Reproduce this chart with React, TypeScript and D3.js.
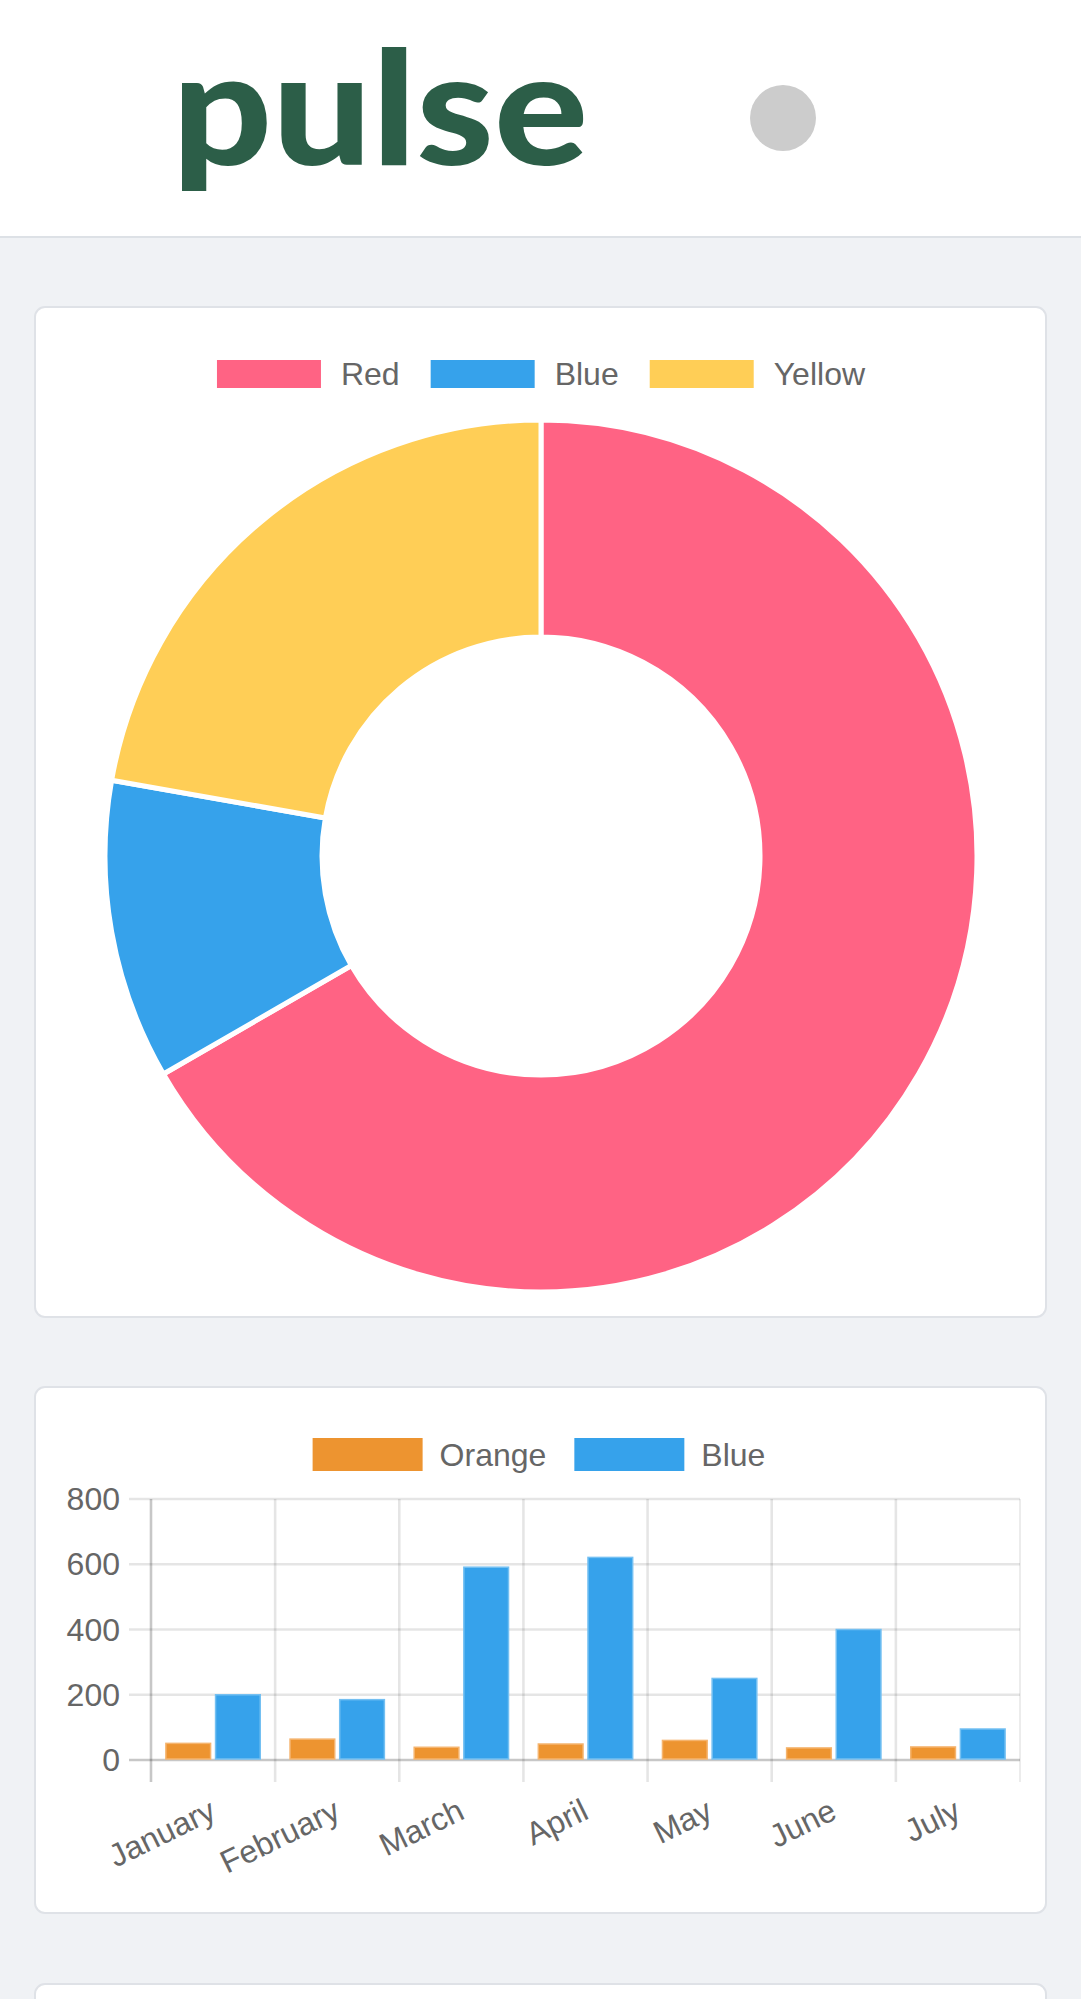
import React from "react";
import * as d3 from "d3";

// donut data
const PIE_LABELS = ["Red", "Blue", "Yellow"];
const PIE_VALUES = [300, 50, 100];
const PIE_COLORS = ["#FF6384", "#36A2EB", "#FFCE56"];

// bar data
const MONTHS = ["January", "February", "March", "April", "May", "June", "July"];
const BAR_SERIES = ["Orange", "Blue"];
const ORANGE_VALUES = [51, 64, 39, 49, 60, 37, 40];
const BLUE_VALUES = [200, 185, 591, 621, 250, 400, 95];
const BAR_COLORS = ["#ED9430", "#36A2EB"];
const BAR_BORDERS = ["#F5B46E", "#74C0F2"];
const Y_TICKS = [0, 200, 400, 600, 800];

const W = 1081;
const H = 1999;
const FONT = "'Liberation Sans', Arial, Helvetica, sans-serif";
const TEXT = "#666666";

const measure = (txt: string, size: number) => {
  const ctx = document.createElement("canvas").getContext("2d");
  if (!ctx) return txt.length * size * 0.55;
  ctx.font = `${size}px 'Liberation Sans', Arial`;
  return ctx.measureText(txt).width;
};

// simple centred legend like chart.js draws it
const Legend = ({ labels, colors, cx, y, boxW, boxH, gap, itemGap }) => {
  const widths = labels.map((l) => measure(l, 32));
  const total =
    widths.reduce((a, w) => a + boxW + gap + w, 0) + itemGap * (labels.length - 1);
  let x = cx - total / 2;
  const items = labels.map((l, i) => {
    const item = { label: l, color: colors[i], x };
    x += boxW + gap + widths[i] + itemGap;
    return item;
  });
  return (
    <g>
      {items.map((d) => (
        <g key={d.label}>
          <rect x={d.x} y={y} width={boxW} height={boxH} fill={d.color} />
          <text
            x={d.x + boxW + gap}
            y={y + boxH / 2}
            dominantBaseline="central"
            fontFamily={FONT}
            fontSize={32}
            fill={TEXT}
          >
            {d.label}
          </text>
        </g>
      ))}
    </g>
  );
};

const Card = ({ y, h }) => (
  <rect x={35} y={y} width={1011} height={h} rx={10} fill="#ffffff" stroke="#dfe2e7" strokeWidth={2} />
);

const Donut = () => {
  const cx = 541;
  const cy = 856;
  const pie = d3.pie<number>().sort(null).startAngle(0).endAngle(2 * Math.PI);
  const arc = d3.arc<d3.PieArcDatum<number>>().innerRadius(219).outerRadius(436);
  const arcs = pie(PIE_VALUES);
  return (
    <g>
      <Legend labels={PIE_LABELS} colors={PIE_COLORS} cx={541} y={360} boxW={104} boxH={28} gap={20} itemGap={31} />
      <g transform={`translate(${cx},${cy})`}>
        {arcs.map((a, i) => (
          <path key={PIE_LABELS[i]} d={arc(a) || ""} fill={PIE_COLORS[i]} stroke="#ffffff" strokeWidth={5} strokeLinejoin="round" />
        ))}
      </g>
    </g>
  );
};

const Bars = () => {
  const left = 151;
  const right = 1020;
  const x = d3.scaleBand().domain(MONTHS).range([left, right]);
  const bw = x.bandwidth();
  const xs = d3
    .scaleBand()
    .domain(BAR_SERIES)
    .range([bw * 0.1, bw * 0.9])
    .paddingInner(0.1)
    .paddingOuter(0.05);
  const y = d3.scaleLinear().domain([0, 800]).range([1760, 1499]);
  const series = [ORANGE_VALUES, BLUE_VALUES];
  const gridW = 2.6;
  const edges = MONTHS.map((m) => x(m) as number).concat([right]);
  return (
    <g>
      <Legend labels={BAR_SERIES} colors={BAR_COLORS} cx={539} y={1438} boxW={110} boxH={33} gap={17} itemGap={28} />
      {/* vertical grid */}
      {edges.map((ex, i) => (
        <line
          key={"v" + i}
          x1={ex}
          x2={ex}
          y1={y(800)}
          y2={1782}
          stroke={i === 0 ? "rgba(0,0,0,0.22)" : "rgba(0,0,0,0.1)"}
          strokeWidth={i === edges.length - 1 ? 1.5 : gridW}
        />
      ))}
      {/* horizontal grid */}
      {Y_TICKS.map((t) => (
        <g key={"h" + t}>
          <line
            x1={129}
            x2={right}
            y1={y(t)}
            y2={y(t)}
            stroke={t === 0 ? "rgba(0,0,0,0.22)" : "rgba(0,0,0,0.1)"}
            strokeWidth={gridW}
          />
          <text x={120} y={y(t)} textAnchor="end" dominantBaseline="central" fontFamily={FONT} fontSize={32} fill={TEXT}>
            {t}
          </text>
        </g>
      ))}
      {/* bars */}
      {series.map((vals, si) =>
        vals.map((v, i) => (
          <rect
            key={BAR_SERIES[si] + i}
            x={(x(MONTHS[i]) as number) + (xs(BAR_SERIES[si]) as number)}
            y={y(v)}
            width={xs.bandwidth()}
            height={y(0) - y(v) - 1}
            fill={BAR_COLORS[si]}
            stroke={BAR_BORDERS[si]}
            strokeWidth={1.5}
          />
        ))
      )}
      {/* x labels */}
      {MONTHS.map((m) => (
        <text
          key={m}
          transform={`translate(${(x(m) as number) + bw / 2},1808) rotate(-26)`}
          textAnchor="end"
          dominantBaseline="central"
          fontFamily={FONT}
          fontSize={32}
          fill={TEXT}
        >
          {m}
        </text>
      ))}
    </g>
  );
};

export default function App() {
  return (
    <div style={{ position: "absolute", left: 0, top: 0, width: W, height: H, overflow: "hidden" }}>
      <svg width={W} height={H} viewBox={`0 0 ${W} ${H}`} style={{ display: "block" }}>
        <rect x={0} y={0} width={W} height={H} fill="#f0f2f5" />
        {/* header */}
        <rect x={0} y={0} width={W} height={236} fill="#ffffff" />
        <rect x={0} y={236} width={W} height={2} fill="#dde1e6" />
        <text
          x={172}
          y={165}
          fontFamily="Lato, 'Noto Sans', sans-serif"
          fontWeight={900}
          fontSize={158}
          fill="#2c5e48"
          textLength={416}
          lengthAdjust="spacingAndGlyphs"
        >
          pulse
        </text>
        <circle cx={783} cy={118} r={33} fill="#cccccc" />

        <Card y={307} h={1010} />
        <Donut />

        <Card y={1387} h={526} />
        <Bars />

        <Card y={1984} h={100} />
      </svg>
    </div>
  );
}
